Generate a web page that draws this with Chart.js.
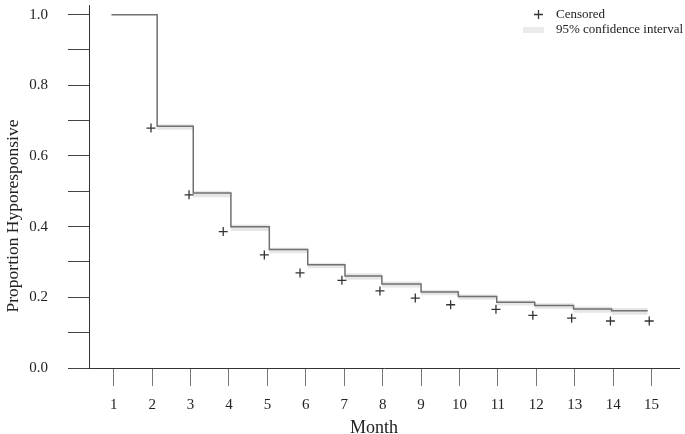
<!DOCTYPE html>
<html>
<head>
<meta charset="utf-8">
<script src="https://cdn.jsdelivr.net/npm/chart.js@4.4.1/dist/chart.umd.min.js"></script>
<style>
  html, body { margin: 0; padding: 0; background: #fff; }
</style>
</head>
<body>
<canvas id="km-chart" width="685" height="434"></canvas>
<script>
// step times (month) where the curve drops, and the level it drops to
const stepTimes = [0.94, 2.13, 3.07, 4.05, 5.05, 6.05, 7.02, 7.98, 9.0, 9.97, 10.97, 11.96, 12.97, 13.96, 14.9];
const survival  = [1.0, 0.684, 0.495, 0.400, 0.335, 0.292, 0.260, 0.238, 0.215, 0.2025, 0.186, 0.177, 0.167, 0.162, 0.162];
const ciHigh    = [1.0, 0.690, 0.501, 0.406, 0.340, 0.297, 0.268, 0.245, 0.221, 0.208, 0.192, 0.183, 0.174, 0.170, 0.170];
const ciLow     = [1.0, 0.674, 0.483, 0.388, 0.325, 0.282, 0.250, 0.228, 0.206, 0.193, 0.177, 0.168, 0.156, 0.151, 0.151];

// censored marks
const censorTimes  = [1.97, 2.96, 3.85, 4.92, 5.85, 6.94, 7.93, 8.85, 9.77, 10.95, 11.91, 12.92, 13.93, 14.94];
const censorValues = [0.679, 0.490, 0.386, 0.320, 0.269, 0.248, 0.218, 0.198, 0.179, 0.166, 0.149, 0.141, 0.133, 0.133];

const months = [1, 2, 3, 4, 5, 6, 7, 8, 9, 10, 11, 12, 13, 14, 15];
const yTicks = [0, 0.1, 0.2, 0.3, 0.4, 0.5, 0.6, 0.7, 0.8, 0.9, 1.0];

const FONT = "'Liberation Serif', 'Times New Roman', serif";

const toPoints = (xs, ys) => xs.map((x, i) => ({ x: x, y: ys[i] }));

// legend + axis titles
const annotPlugin = {
    id: 'kmAnnot',
    afterDraw(chart) {
        const ctx = chart.ctx;
        ctx.save();
        // censored mark
        ctx.strokeStyle = '#333';
        ctx.lineWidth = 1.3;
        ctx.beginPath();
        ctx.moveTo(534, 14.5); ctx.lineTo(543, 14.5);
        ctx.moveTo(538.5, 10); ctx.lineTo(538.5, 19);
        ctx.stroke();
        // ci swatch
        ctx.fillStyle = '#ebebeb';
        ctx.fillRect(523, 27, 21, 6);

        ctx.fillStyle = '#222';
        ctx.font = '13px ' + FONT;
        ctx.textBaseline = 'middle';
        ctx.fillText('Censored', 556, 15);
        ctx.fillText('95% confidence interval', 556, 30);

        ctx.font = '18px ' + FONT;
        ctx.textAlign = 'center';
        ctx.fillText('Month', 374, 428);

        ctx.translate(13, 216);
        ctx.rotate(-Math.PI / 2);
        ctx.font = '17.5px ' + FONT;
        ctx.fillText('Proportion Hyporesponsive', 0, 0);
        ctx.restore();
    }
};

const ctx = document.getElementById('km-chart').getContext('2d');

new Chart(ctx, {
    type: 'line',
    data: {
        datasets: [
            {
                label: 'Survival',
                data: toPoints(stepTimes, survival),
                stepped: 'before',
                borderColor: '#707070',
                borderWidth: 1.5,
                pointRadius: 0,
                fill: false
            },
            {
                type: 'scatter',
                label: 'Censored',
                data: toPoints(censorTimes, censorValues),
                pointStyle: 'cross',
                pointRadius: 4.5,
                borderColor: '#333',
                borderWidth: 1.3,
                showLine: false
            },
            {
                label: 'CI upper',
                data: toPoints(stepTimes, ciHigh),
                stepped: 'before',
                borderColor: 'rgba(0,0,0,0)',
                backgroundColor: '#e6e6e6',
                pointRadius: 0,
                fill: '+1'
            },
            {
                label: 'CI lower',
                data: toPoints(stepTimes, ciLow),
                stepped: 'before',
                borderColor: 'rgba(0,0,0,0)',
                pointRadius: 0,
                fill: false
            }
        ]
    },
    options: {
        responsive: false,
        animation: false,
        layout: { padding: { top: 0, right: 0, left: 0, bottom: 0 } },
        plugins: {
            legend: { display: false },
            tooltip: { enabled: false }
        },
        scales: {
            x: {
                type: 'linear',
                min: 0.356,
                max: 15.72,
                afterBuildTicks: axis => { axis.ticks = months.map(v => ({ value: v })); },
                afterFit: scale => {
                    scale.height = 66;
                    scale.paddingLeft = 0;
                    scale.paddingRight = 0;
                },
                grid: {
                    drawOnChartArea: false,
                    drawTicks: true,
                    tickLength: 18,
                    color: '#777'
                },
                border: { display: true, color: '#333', width: 1 },
                ticks: {
                    padding: 10,
                    color: '#222',
                    font: { family: FONT, size: 15 },
                    maxRotation: 0,
                    autoSkip: false
                }
            },
            y: {
                min: 0,
                max: 1.025,
                afterBuildTicks: axis => { axis.ticks = yTicks.map(v => ({ value: v })); },
                afterFit: scale => {
                    scale.width = 89;
                    scale.paddingTop = 0;
                    scale.paddingBottom = 0;
                },
                grid: {
                    drawOnChartArea: false,
                    drawTicks: true,
                    tickLength: 21,
                    color: '#444'
                },
                border: { display: true, color: '#333', width: 1 },
                ticks: {
                    padding: 20,
                    color: '#222',
                    font: { family: FONT, size: 15 },
                    autoSkip: false,
                    callback: v => (Math.round(v * 10) % 2 === 0 ? v.toFixed(1) : '')
                }
            }
        }
    },
    plugins: [annotPlugin]
});
</script>
</body>
</html>
